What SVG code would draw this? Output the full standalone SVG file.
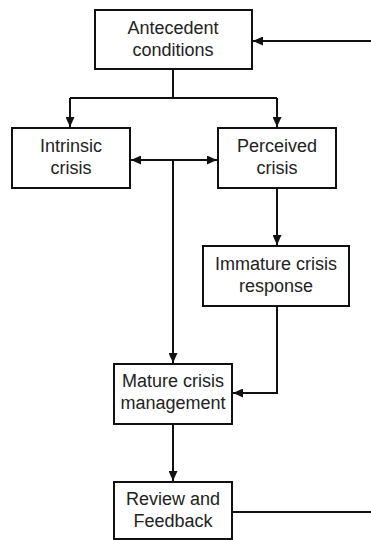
<svg xmlns="http://www.w3.org/2000/svg" width="371" height="540" viewBox="0 0 371 540">
<style>
.box{fill:#fff;stroke:#111;stroke-width:2}
.lbl{font-family:"Liberation Sans",Arial,sans-serif;font-size:18px;fill:#222;text-anchor:middle}
.ln{fill:none;stroke:#111;stroke-width:2}
</style>
<defs>
<marker id="ah" markerUnits="userSpaceOnUse" markerWidth="11" markerHeight="9" refX="10" refY="4.5" orient="auto-start-reverse">
<path d="M0,0 L10,4.5 L0,9 z" fill="#111"/>
</marker>
</defs>
<rect width="371" height="540" fill="#fff"/>
<g id="connectors">
<path class="ln" d="M371,41 H253" marker-end="url(#ah)"/>
<path class="ln" d="M232,512 H371"/>
<path class="ln" d="M173,69 V98"/>
<path class="ln" d="M70,98 H277"/>
<path class="ln" d="M70,98 V127" marker-end="url(#ah)"/>
<path class="ln" d="M277,98 V127" marker-end="url(#ah)"/>
<path class="ln" d="M131,160 H217" marker-start="url(#ah)" marker-end="url(#ah)"/>
<path class="ln" d="M173,160 V363" marker-end="url(#ah)"/>
<path class="ln" d="M277,188 V245" marker-end="url(#ah)"/>
<path class="ln" d="M277,306 V393 H233" marker-end="url(#ah)"/>
<path class="ln" d="M173,424 V481" marker-end="url(#ah)"/>
</g>
<g id="antecedent">
<rect class="box" x="95" y="10" width="157" height="59"/>
<text class="lbl" x="173" y="34">Antecedent</text>
<text class="lbl" x="173" y="56">conditions</text>
</g>
<g id="intrinsic">
<rect class="box" x="12" y="128" width="118" height="60"/>
<text class="lbl" x="71" y="152">Intrinsic</text>
<text class="lbl" x="71" y="174">crisis</text>
</g>
<g id="perceived">
<rect class="box" x="218" y="128" width="118" height="60"/>
<text class="lbl" x="277" y="152">Perceived</text>
<text class="lbl" x="277" y="174">crisis</text>
</g>
<g id="immature">
<rect class="box" x="203" y="246" width="146" height="60"/>
<text class="lbl" x="276" y="270">Immature crisis</text>
<text class="lbl" x="276" y="292">response</text>
</g>
<g id="mature">
<rect class="box" x="114" y="364" width="118" height="60"/>
<text class="lbl" x="173" y="387">Mature crisis</text>
<text class="lbl" x="173" y="409">management</text>
</g>
<g id="review">
<rect class="box" x="114" y="482" width="118" height="57"/>
<text class="lbl" x="173" y="505">Review and</text>
<text class="lbl" x="173" y="527">Feedback</text>
</g>
</svg>
